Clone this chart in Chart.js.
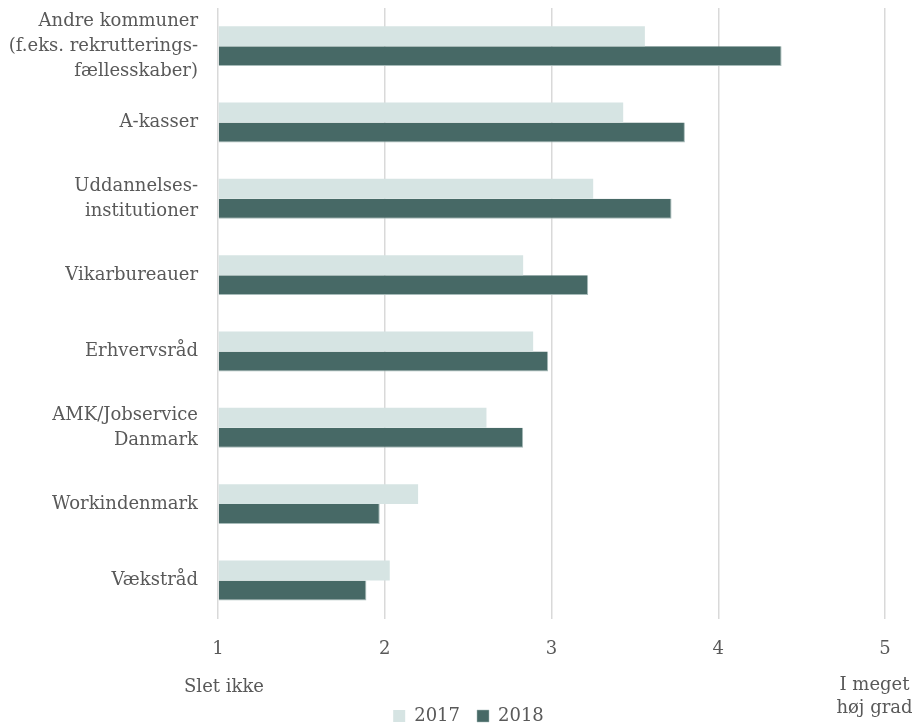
<!DOCTYPE html>
<html>
<head>
<meta charset="utf-8">
<script src="https://cdn.jsdelivr.net/npm/chart.js@4/dist/chart.umd.min.js"></script>
<style>
  html, body { margin: 0; padding: 0; background: #ffffff; }
  #wrap { width: 914px; height: 725px; position: relative; }
</style>
</head>
<body>
<div id="wrap"><canvas id="chart"></canvas></div>
<script>
// Samarbejdspartnere, vurderet på en skala fra 1 (slet ikke) til 5 (i meget høj grad)
const categories = [
  ['Andre kommuner', '(f.eks. rekrutterings-', 'fællesskaber)'],
  'A-kasser',
  ['Uddannelses-', 'institutioner'],
  'Vikarbureauer',
  'Erhvervsråd',
  ['AMK/Jobservice', 'Danmark'],
  'Workindenmark',
  'Vækstråd'
];
const values2017 = [3.56, 3.43, 3.25, 2.83, 2.89, 2.61, 2.20, 2.03];
const values2018 = [4.38, 3.80, 3.72, 3.22, 2.98, 2.83, 1.97, 1.89];
const seriesNames = ['2017', '2018'];
const xTicks = [1, 2, 3, 4, 5];
const lowEndLabel = ['Slet ikke'];
const highEndLabel = ['I meget', 'høj grad'];

const TEXT = '#595959';
const FONT = 'DejaVu Serif';

// Writes the scale-end descriptions under the first and last tick
const endLabels = {
  id: 'endLabels',
  afterLayout(chart) {
    // centre the legend row a little right of the canvas middle
    const lg = chart.legend;
    if (lg) { lg.left += 26; lg.right += 26; }
  },
  afterDraw(chart) {
    const ctx = chart.ctx;
    const x = chart.scales.x;
    ctx.save();
    ctx.fillStyle = TEXT;
    ctx.font = '18px "' + FONT + '"';
    ctx.textAlign = 'center';
    ctx.textBaseline = 'alphabetic';
    lowEndLabel.forEach((t, i) => ctx.fillText(t, x.getPixelForValue(xTicks[0]) + 6, 692 + i * 23));
    highEndLabel.forEach((t, i) => ctx.fillText(t, x.getPixelForValue(xTicks[xTicks.length - 1]) - 10.5, 690 + i * 23));
    ctx.restore();
  }
};

new Chart(document.getElementById('chart'), {
  type: 'bar',
  data: {
    labels: categories,
    datasets: [
      {
        label: seriesNames[0],
        data: values2017,
        base: 1,
        backgroundColor: '#d6e4e3',
        borderWidth: 0
      },
      {
        label: seriesNames[1],
        data: values2018,
        base: 1,
        backgroundColor: '#476966',
        borderColor: '#a7bbb9',
        borderWidth: { right: 1, bottom: 1 },
        borderSkipped: 'start'
      }
    ]
  },
  options: {
    indexAxis: 'y',
    responsive: true,
    maintainAspectRatio: false,
    animation: false,
    categoryPercentage: 0.523,
    barPercentage: 1,
    layout: { padding: { top: 8, right: 29, left: 0, bottom: -10 } },
    scales: {
      x: {
        type: 'linear',
        min: 1,
        max: 5,
        afterBuildTicks(scale) { scale.ticks = xTicks.map(v => ({ value: v })); },
        afterFit(scale) {
          scale.height = 71.4;
          scale.paddingLeft = 0;
          scale.paddingRight = 0;
        },
        grid: { color: '#d9d9d9', lineWidth: 1.5, drawTicks: false },
        border: { display: false },
        ticks: {
          color: TEXT,
          font: { family: FONT, size: 18 },
          padding: 20
        }
      },
      y: {
        afterFit(scale) {
          scale.width = 218;
          scale.paddingTop = 0;
          scale.paddingBottom = 0;
        },
        grid: { display: false, drawTicks: false },
        border: { display: false },
        ticks: {
          autoSkip: false,
          color: TEXT,
          font: { family: FONT, size: 18, lineHeight: '25px' },
          padding: 20
        }
      }
    },
    plugins: {
      legend: {
        position: 'bottom',
        labels: {
          color: TEXT,
          font: { family: FONT, size: 18 },
          boxWidth: 12,
          boxHeight: 12,
          padding: 17
        }
      },
      tooltip: { enabled: false }
    }
  },
  plugins: [endLabels]
});
</script>
</body>
</html>
